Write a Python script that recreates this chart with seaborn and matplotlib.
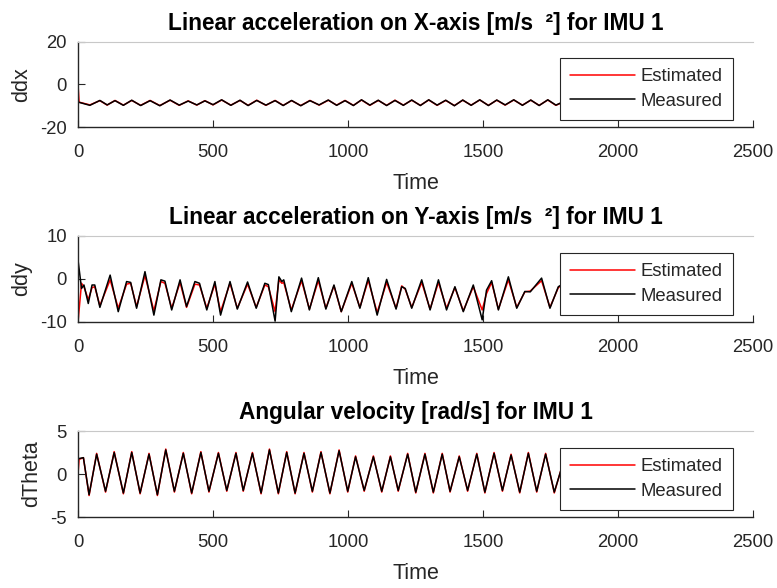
import matplotlib
matplotlib.use("Agg")
import matplotlib.pyplot as plt
import seaborn as sns

# values (peaks / troughs of each trace)
t_ddx = [0, 4, 44, 81, 108, 137, 168, 199, 232, 267, 303, 341, 375, 408, 440, 470, 500,
         532, 566, 600, 630, 662, 696, 730, 760, 791, 825, 859, 893, 927, 958, 989,
         1020, 1050, 1081, 1112, 1143, 1174, 1205, 1236, 1268, 1299, 1330, 1362, 1394,
         1425, 1456, 1488, 1520, 1551, 1582, 1614, 1646, 1677, 1708, 1740, 1770, 1800]
ddx_measured = [-8.2, -8.4, -9.8, -7.5, -9.6, -7.6, -9.8, -7.4, -9.9, -7.6, -10.0, -7.3,
                -9.7, -7.8, -9.6, -7.7, -9.5, -7.2, -9.8, -7.4, -9.9, -7.5, -9.7, -7.6,
                -9.9, -7.5, -10.0, -7.6, -9.6, -7.3, -9.8, -7.6, -9.9, -7.2, -9.7, -7.4,
                -9.9, -7.5, -9.8, -7.3, -9.9, -7.2, -9.7, -7.4, -10.0, -7.3, -9.8, -7.2,
                -9.9, -7.3, -9.6, -7.2, -9.8, -7.3, -9.9, -7.2, -9.7, -8.0]
ddx_estimated = [0.0, -8.3, -9.6, -7.6, -9.7, -7.5, -9.7, -7.5, -9.8, -7.5, -9.9, -7.4,
                 -9.8, -7.7, -9.7, -7.6, -9.6, -7.3, -9.7, -7.5, -9.8, -7.4, -9.8, -7.5,
                 -9.8, -7.6, -9.9, -7.5, -9.7, -7.4, -9.7, -7.5, -9.8, -7.3, -9.8, -7.5,
                 -9.8, -7.4, -9.7, -7.4, -9.8, -7.3, -9.8, -7.5, -9.9, -7.4, -9.7, -7.3,
                 -9.8, -7.4, -9.7, -7.3, -9.7, -7.4, -9.8, -7.3, -9.8, -8.1]

t_ddy = [0, 13, 22, 38, 52, 62, 81, 119, 149, 180, 195, 217, 248, 281, 307, 322, 347,
         378, 402, 433, 450, 477, 507, 528, 563, 590, 628, 660, 692, 705, 730, 744, 755,
         762, 790, 828, 857, 890, 918, 948, 975, 1014, 1044, 1075, 1108, 1143, 1178,
         1199, 1212, 1236, 1273, 1304, 1335, 1365, 1396, 1427, 1464, 1497, 1513, 1532,
         1557, 1594, 1625, 1655, 1675, 1717, 1748, 1779, 1800]
ddy_measured = [4.4, -2.2, -1.4, -5.7, -1.4, -1.4, -6.6, 0.9, -7.6, -0.6, -0.8, -6.8,
                1.7, -8.4, -0.2, -0.5, -7.2, -0.2, -6.4, -0.6, -1.0, -7.2, -0.6, -8.4,
                -0.6, -7.0, -0.7, -6.8, -1.0, -1.3, -9.8, 0.5, -0.6, -0.2, -7.6, 0.2,
                -7.2, 0.3, -7.0, -1.4, -7.6, -0.6, -6.8, 0.3, -8.4, -0.1, -7.0, -1.8,
                -2.2, -6.8, -0.2, -7.2, -0.2, -7.2, -1.8, -7.6, -1.4, -9.5, -2.6, -0.4,
                -7.2, 0.5, -6.8, -2.9, -3.0, 0.2, -6.8, -1.8, -1.0]
ddy_estimated = [-10.0, -1.0, -1.8, -4.8, -2.0, -1.8, -6.2, -0.2, -6.8, -1.2, -1.0, -6.4,
                 0.8, -7.4, -0.6, -1.0, -6.8, -0.8, -6.6, -1.2, -1.4, -6.8, -1.2, -7.6,
                 -1.0, -6.8, -1.2, -6.6, -1.4, -1.8, -7.6, -0.2, -1.0, -0.8, -7.2, -0.4,
                 -7.0, -0.4, -6.8, -1.6, -7.6, -1.0, -6.6, -0.3, -7.8, -0.8, -6.8, -1.6,
                 -2.4, -6.6, -0.8, -7.0, -0.8, -6.8, -2.0, -7.4, -1.8, -7.2, -3.4, -0.8,
                 -7.0, -0.2, -6.6, -3.0, -2.8, -0.4, -6.6, -2.0, -1.2]

t_dtheta = [0, 4, 20, 41, 69, 102, 134, 168, 199, 230, 263, 294, 325, 357, 390, 421, 455,
            485, 520, 551, 585, 612, 646, 678, 709, 742, 773, 804, 837, 868, 900, 933,
            967, 999, 1028, 1060, 1094, 1125, 1157, 1186, 1221, 1251, 1285, 1316, 1349,
            1378, 1412, 1443, 1477, 1507, 1541, 1572, 1604, 1636, 1668, 1699, 1732,
            1764, 1800]
dtheta_measured = [1.8, 1.8, 1.9, -2.4, 2.3, -2.0, 2.5, -2.2, 2.5, -2.2, 2.3, -2.4, 2.8,
                   -2.0, 2.4, -2.2, 2.5, -2.0, 2.4, -1.9, 2.4, -1.9, 2.4, -2.2, 2.8, -2.2,
                   2.5, -2.2, 2.4, -2.0, 2.5, -2.2, 2.7, -2.0, 2.0, -1.9, 2.0, -2.0, 2.0,
                   -1.9, 2.3, -2.1, 2.3, -2.1, 2.3, -2.0, 2.0, -1.9, 2.3, -2.1, 2.4, -1.9,
                   2.2, -2.1, 2.4, -2.0, 2.3, -2.1, 1.6]
dtheta_estimated = [0.0, 1.7, 1.9, -2.5, 2.4, -2.1, 2.6, -2.3, 2.6, -2.3, 2.4, -2.5, 2.9,
                    -2.1, 2.5, -2.3, 2.6, -2.1, 2.5, -2.0, 2.5, -2.0, 2.5, -2.3, 2.9, -2.3,
                    2.6, -2.3, 2.5, -2.1, 2.6, -2.3, 2.8, -2.1, 2.1, -2.0, 2.1, -2.1, 2.1,
                    -2.0, 2.4, -2.2, 2.4, -2.2, 2.4, -2.1, 2.1, -2.0, 2.4, -2.2, 2.5, -2.0,
                    2.3, -2.2, 2.5, -2.1, 2.4, -2.2, 1.7]

titles = ["Linear acceleration on X-axis [m/s  \u00b2] for IMU 1",
          "Linear acceleration on Y-axis [m/s  \u00b2] for IMU 1",
          "Angular velocity [rad/s] for IMU 1"]
ylabels = ["ddx", "ddy", "dTheta"]
yticks = [[-20, 0, 20], [-10, 0, 10], [-5, 0, 5]]
xticks = [0, 500, 1000, 1500, 2000, 2500]

panels = [(t_ddx, ddx_estimated, ddx_measured),
          (t_ddy, ddy_estimated, ddy_measured),
          (t_dtheta, dtheta_estimated, dtheta_measured)]

sns.set_style("white")
plt.rcParams["font.family"] = ["Liberation Sans", "DejaVu Sans"]
plt.rcParams["axes.unicode_minus"] = False

fig = plt.figure(figsize=(7.77, 5.88), dpi=100)
boxes = [[0.1004, 0.784, 0.8687, 0.1446],
         [0.1004, 0.4524, 0.8687, 0.1463],
         [0.1004, 0.1207, 0.8687, 0.1463]]

dark = "#262626"
for i, (t, est, meas) in enumerate(panels):
    ax = fig.add_axes(boxes[i])
    sns.lineplot(x=t, y=est, ax=ax, color="red", lw=1.1, label="Estimated",
                 sort=False, estimator=None)
    sns.lineplot(x=t, y=meas, ax=ax, color="black", lw=1.1, label="Measured",
                 sort=False, estimator=None)
    ax.set_xlim(0, 2500)
    ax.set_ylim(yticks[i][0], yticks[i][-1])
    ax.set_xticks(xticks)
    ax.set_yticks(yticks[i])
    ax.set_title(titles[i], fontsize=16.3, fontweight="bold", color="black", pad=8.6)
    ax.set_xlabel("Time", fontsize=15.5, color=dark, labelpad=9)
    ax.set_ylabel(ylabels[i], fontsize=15.5, color=dark, labelpad=6)
    ax.tick_params(direction="in", length=5, width=0.8, colors=dark,
                   labelsize=13.3, pad=8, bottom=True, left=True)
    ax.tick_params(axis="x", pad=12)
    ax.spines["right"].set_visible(False)
    ax.spines["top"].set_color("#c8c8c8")
    ax.spines["top"].set_linewidth(0.8)
    ax.spines["left"].set_color(dark)
    ax.spines["bottom"].set_color(dark)
    ax.spines["left"].set_linewidth(1.0)
    ax.spines["bottom"].set_linewidth(1.0)
    leg = ax.legend(loc="lower right", bbox_to_anchor=(0.970, 0.082), borderaxespad=0,
                    fontsize=13.3, handlelength=3.5, handletextpad=0.3, borderpad=0.55,
                    labelspacing=0.4, fancybox=False, framealpha=1, edgecolor=dark)
    leg.get_frame().set_linewidth(0.8)
    for txt in leg.get_texts():
        txt.set_color(dark)

fig.savefig("out.png", dpi=100)
